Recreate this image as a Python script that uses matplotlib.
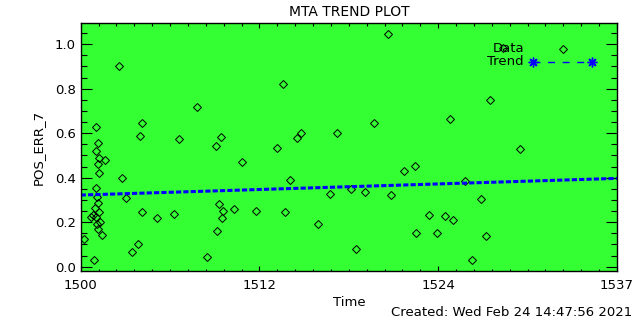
import matplotlib
matplotlib.use('Agg')
import matplotlib.pyplot as plt
from matplotlib.ticker import FixedLocator, MultipleLocator, AutoMinorLocator

# data
time = [1500.25, 1500.94, 1502.66, 1501.08, 1501.17, 1501.08, 1501.28, 1501.68, 1501.21, 1501.28,
        1501.04, 1501.10, 1501.22, 1500.99, 1501.29, 1500.87, 1501.06, 1500.69, 1501.33, 1501.10,
        1501.22, 1501.45,
        1502.87, 1503.15, 1504.23, 1504.09, 1504.25, 1503.98, 1503.56, 1505.29, 1506.80, 1506.46,
        1508.03, 1508.74, 1509.34, 1509.70, 1509.57, 1509.82, 1509.77, 1509.43, 1510.60, 1511.15,
        1512.12, 1513.98, 1513.57, 1514.44, 1514.12, 1515.18, 1514.95, 1516.40, 1517.23, 1517.71,
        1518.67, 1519.02, 1519.64, 1520.24, 1521.23, 1521.44, 1522.31, 1523.09, 1523.16, 1524.04,
        1524.59, 1525.14, 1525.69, 1525.51, 1526.54, 1527.03, 1527.65, 1527.99, 1528.27, 1529.14,
        1530.34]
pos_err = [0.123, 0.030, 0.902, 0.627, 0.555, 0.522, 0.487, 0.480, 0.462, 0.420,
           0.352, 0.315, 0.288, 0.262, 0.247, 0.232, 0.225, 0.222, 0.202, 0.192,
           0.168, 0.143,
           0.397, 0.307, 0.645, 0.589, 0.247, 0.101, 0.065, 0.218, 0.576, 0.237,
           0.717, 0.042, 0.544, 0.582, 0.282, 0.252, 0.218, 0.162, 0.258, 0.469,
           0.252, 0.820, 0.532, 0.388, 0.245, 0.603, 0.580, 0.192, 0.327, 0.600,
           0.348, 0.078, 0.335, 0.645, 1.045, 0.321, 0.429, 0.451, 0.150, 0.231,
           0.150, 0.227, 0.209, 0.663, 0.384, 0.030, 0.303, 0.137, 0.748, 0.982,
           0.528]

trend_x = [1500, 1537]
trend_y = [0.322, 0.397]

xtick_vals = [1500, 1500 + 37 / 3, 1500 + 74 / 3, 1537]
xtick_labels = ['1500', '1512', '1524', '1537']

green = '#33ff33'
blue = '#0000ff'

plt.rcParams['font.family'] = 'DejaVu Sans'
plt.rcParams['font.size'] = 9.5

fig = plt.figure(figsize=(6.4, 3.2), dpi=100)
ax = fig.add_axes([80.7 / 640, 1 - 270.7 / 320, 536.3 / 640, 247.4 / 320])
ax.set_facecolor(green)

ax.plot(time, pos_err, linestyle='none', marker='D', markersize=4.1,
        markerfacecolor='none', markeredgecolor='black', markeredgewidth=0.7)
ax.plot(trend_x, trend_y, color=blue, linewidth=2.2, dashes=(1.7, 0.7), solid_capstyle='butt')

ax.set_xlim(1500, 1537)
ax.set_ylim(-0.018, 1.094)
ax.xaxis.set_major_locator(FixedLocator(xtick_vals))
ax.set_xticklabels(xtick_labels)
ax.xaxis.set_minor_locator(AutoMinorLocator(10))
ax.yaxis.set_major_locator(MultipleLocator(0.2))
ax.yaxis.set_minor_locator(MultipleLocator(0.05))
ax.yaxis.set_major_formatter(plt.FormatStrFormatter('%.1f'))

ax.tick_params(axis='both', which='both', direction='in', top=True, right=True, width=0.8)
ax.tick_params(axis='x', which='major', length=3.6, pad=6)
ax.tick_params(axis='x', which='minor', length=1.8)
ax.tick_params(axis='y', which='major', length=7.9, pad=3.4)
ax.tick_params(axis='y', which='minor', length=4)
for s in ax.spines.values():
    s.set_linewidth(1.0)

ax.set_title('MTA TREND PLOT', fontsize=10, pad=5)
ax.set_xlabel('Time', labelpad=3)
ax.set_ylabel('POS_ERR_7', labelpad=7)

# legend drawn in axes fractions
ax.text(0.8266, 0.898, 'Data', transform=ax.transAxes, ha='right', va='center')
ax.plot([0.8993], [0.898], transform=ax.transAxes, marker='D', markersize=4.1,
        markerfacecolor='none', markeredgecolor='black', markeredgewidth=0.7)
ax.text(0.8266, 0.8436, 'Trend', transform=ax.transAxes, ha='right', va='center')
ax.plot([0.8433, 0.9533], [0.8436, 0.8436], transform=ax.transAxes, color=blue,
        linewidth=1.0, dashes=(5, 5.5), marker=(8, 2, 0), markersize=7,
        markeredgewidth=1.0)

fig.text(632 / 640, 1 - 313 / 320, 'Created: Wed Feb 24 14:47:56 2021',
         ha='right', va='center')

fig.savefig('out.png', dpi=100)
